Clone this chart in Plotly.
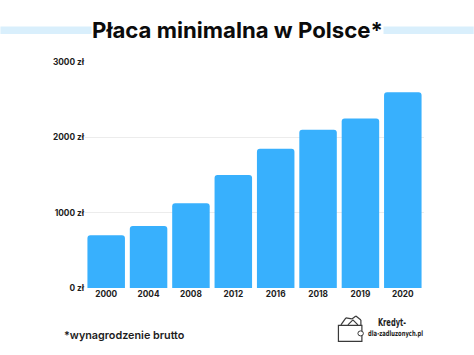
import plotly.graph_objects as go

W, H = 474, 355
years = ["2000", "2004", "2008", "2012", "2016", "2018", "2019", "2020"]
wages = [700, 824, 1126, 1500, 1850, 2100, 2250, 2600]
y_ticks = [0, 1000, 2000, 3000]
y_labels = ["0 zł", "1000 zł", "2000 zł", "3000 zł"]
title_text = "Płaca minimalna w Polsce*"
footnote = "*wynagrodzenie brutto"
logo_top = "Kredyt-"
logo_bottom = "dla-zadluzonych.pl"

L, R, T, B = 84.7, 424.2, 61.5, 288.0

def px(x): return (x - L) / (R - L)
def py(y): return (B - y) / (B - T)

fig = go.Figure(go.Bar(x=years, y=wages, marker=dict(color="#38b0fd", cornerradius=3, line_width=0),
                       width=0.885))

ink = "#3a3a3a"
def line_shape(x0, y0, x1, y1, w=1.2):
    return dict(type="line", xref="paper", yref="paper", x0=px(x0), y0=py(y0), x1=px(x1), y1=py(y1),
                line=dict(color=ink, width=w), layer="above")
def rect_shape(x0, y0, x1, y1, w=1.2, kind="rect"):
    return dict(type=kind, xref="paper", yref="paper", x0=px(x0), y0=py(y0), x1=px(x1), y1=py(y1),
                line=dict(color=ink, width=w), fillcolor="white", layer="above")

shapes = [
    dict(type="rect", xref="paper", yref="paper", x0=px(0), x1=px(W), y0=py(33.5), y1=py(26),
         fillcolor="#d9effc", line_width=0, layer="below"),
    # money notes
    line_shape(341, 325, 346, 318), line_shape(346, 318, 352, 319),
    line_shape(352, 319, 356, 316), line_shape(356, 316, 361, 320),
    line_shape(361, 320, 361, 326), line_shape(348, 325, 353, 320),
    line_shape(353, 320, 358, 325),
    rect_shape(338.5, 325.5, 362, 341.5),
    rect_shape(358, 331, 363.5, 336, 1.0, "circle"),
]

fig.update_layout(
    width=W, height=H, paper_bgcolor="white", plot_bgcolor="white", showlegend=False,
    margin=dict(l=L, r=W - R, t=T, b=H - B, pad=0),
    bargap=0.115, shapes=shapes,
    xaxis=dict(type="category", showgrid=False, showline=False, ticks="", ticklabelstandoff=0,
               tickfont=dict(family="Inter", size=8.3, color="#1d1d1d", weight=700)),
    yaxis=dict(range=[0, 3000], tickvals=y_ticks, ticktext=y_labels, showline=False, zeroline=False,
               gridcolor="#ececec", gridwidth=1, ticks="",
               tickfont=dict(family="Inter", size=8.3, color="#1d1d1d", weight=700)),
    annotations=[
        dict(text=title_text, xref="paper", yref="paper", x=px(237.5), y=py(28.5), xanchor="center", yanchor="middle",
             showarrow=False, bgcolor="white", borderpad=0,
             font=dict(family="Inter", size=22.2, color="#0b0b0b", weight=700)),
        dict(text=footnote, xref="paper", yref="paper", x=px(62), y=py(336), xanchor="left", yanchor="middle",
             showarrow=False, font=dict(family="Inter", size=10.8, color="#1d1d1d", weight=600)),
        dict(text=logo_top, xref="paper", yref="paper", x=px(371.5), y=py(323), xanchor="left", yanchor="middle",
             showarrow=False, font=dict(family="DejaVu Sans Condensed, Liberation Sans, sans-serif", size=10, color="#1d1d1d", weight=700)),
        dict(text=logo_bottom, xref="paper", yref="paper", x=px(358), y=py(333.5), xanchor="left", yanchor="middle",
             showarrow=False, font=dict(family="DejaVu Sans Condensed, Liberation Sans, sans-serif", size=7.5, color="#1d1d1d", weight=700)),
    ],
)
squeeze = """
document.body.style.margin='0';
document.querySelectorAll('.annotation-text').forEach(function(t){
  var s=t.textContent, n=s==='Kredyt-'?28:(s==='dla-zadluzonych.pl'?55:0);
  if(n){t.setAttribute('textLength',n);t.setAttribute('lengthAdjust','spacingAndGlyphs');}
});
"""
fig.write_html("out.html", config={"displayModeBar": False}, post_script=squeeze)
